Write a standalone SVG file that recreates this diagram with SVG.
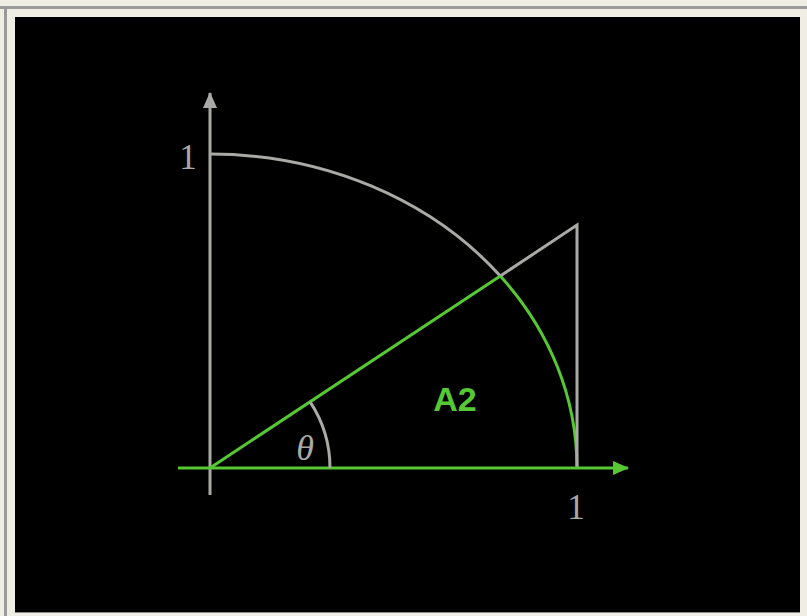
<svg xmlns="http://www.w3.org/2000/svg" width="807" height="616" viewBox="0 0 807 616">
<style>
.g{stroke:#a9a9a6;stroke-width:3;fill:none}
.gr{stroke:#55c834;stroke-width:3;fill:none}
.num{font-family:"Liberation Serif",serif;font-size:35px;fill:#a9a9a6}
</style>
<defs>
<marker id="ag" markerWidth="16" markerHeight="14" refX="15" refY="7" orient="auto" markerUnits="userSpaceOnUse"><path d="M0,0 L16,7 L0,14 Z" fill="#a9a9a6"/></marker>
<marker id="agr" markerWidth="16" markerHeight="14" refX="15" refY="7" orient="auto" markerUnits="userSpaceOnUse"><path d="M0,0 L16,7 L0,14 Z" fill="#55c834"/></marker>
</defs>
<rect width="807" height="616" fill="#efede4"/>
<rect x="0" y="6" width="807" height="3" fill="#9a9a98"/>
<rect x="4" y="6" width="3" height="610" fill="#9a9a98"/>
<rect x="15" y="17" width="785" height="595" fill="#000"/>
<rect x="15" y="612" width="785" height="1" fill="#8a8a86"/>
<g id="connectors">
<line id="yaxis" class="g" x1="210" y1="495" x2="210" y2="93" marker-end="url(#ag)"/>
<path id="arc-gray" class="g" d="M210,154 A367,314 0 0 1 500.3,276"/>
<path id="arc-green" class="gr" d="M500.3,276 A367,314 0 0 1 577,468"/>
<polyline id="tangent" class="g" points="500.3,276 577,225 577,468"/>
<line id="ray" class="gr" x1="210" y1="468" x2="500.3" y2="276"/>
<line id="xaxis" class="gr" x1="178" y1="468" x2="628" y2="468" marker-end="url(#agr)"/>
<path id="angle" class="g" stroke-width="2.5" d="M310.1,401.8 A120,120 0 0 1 330,468"/>
</g>
<g id="labels">
<text class="num" x="188" y="169" text-anchor="middle">1</text>
<text class="num" x="576" y="519" text-anchor="middle">1</text>
<text x="305" y="460" text-anchor="middle" font-family="Liberation Serif,serif" font-style="italic" font-size="36" fill="#a9a9a6">θ</text>
<text x="455" y="411" text-anchor="middle" font-family="Liberation Sans,Arial,sans-serif" font-weight="bold" font-size="34" fill="#55c834">A2</text>
</g>
</svg>
